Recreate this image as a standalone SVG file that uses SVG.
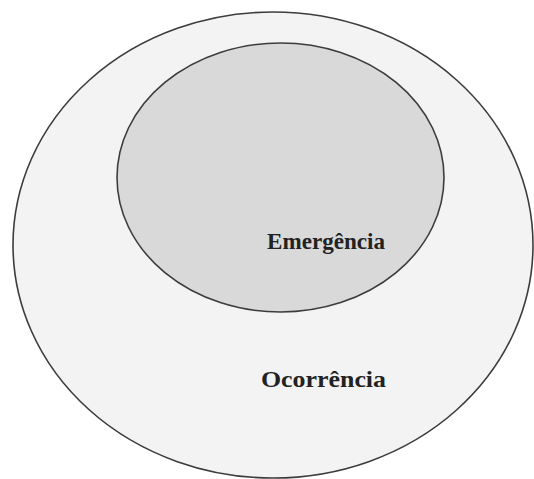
<svg xmlns="http://www.w3.org/2000/svg" width="534" height="479" viewBox="0 0 534 479">
<style>
.set{stroke:#3c3c3c;stroke-width:1.6}
.lbl{font-family:"Liberation Serif","Times New Roman",serif;font-weight:bold;font-size:23px;fill:#222}
</style>
<rect width="534" height="479" fill="#ffffff"/>
<g id="ocorrencia">
<ellipse class="set" cx="273" cy="245" rx="260" ry="233" fill="#f3f3f3"/>
<text class="lbl" x="261" y="387" textLength="125" lengthAdjust="spacingAndGlyphs">Ocorrência</text>
</g>
<g id="emergencia">
<ellipse class="set" cx="280.5" cy="177.5" rx="163.5" ry="134.5" fill="#d9d9d9"/>
<text class="lbl" x="267" y="249" textLength="118" lengthAdjust="spacingAndGlyphs">Emergência</text>
</g>
<g id="connectors"></g>
</svg>
